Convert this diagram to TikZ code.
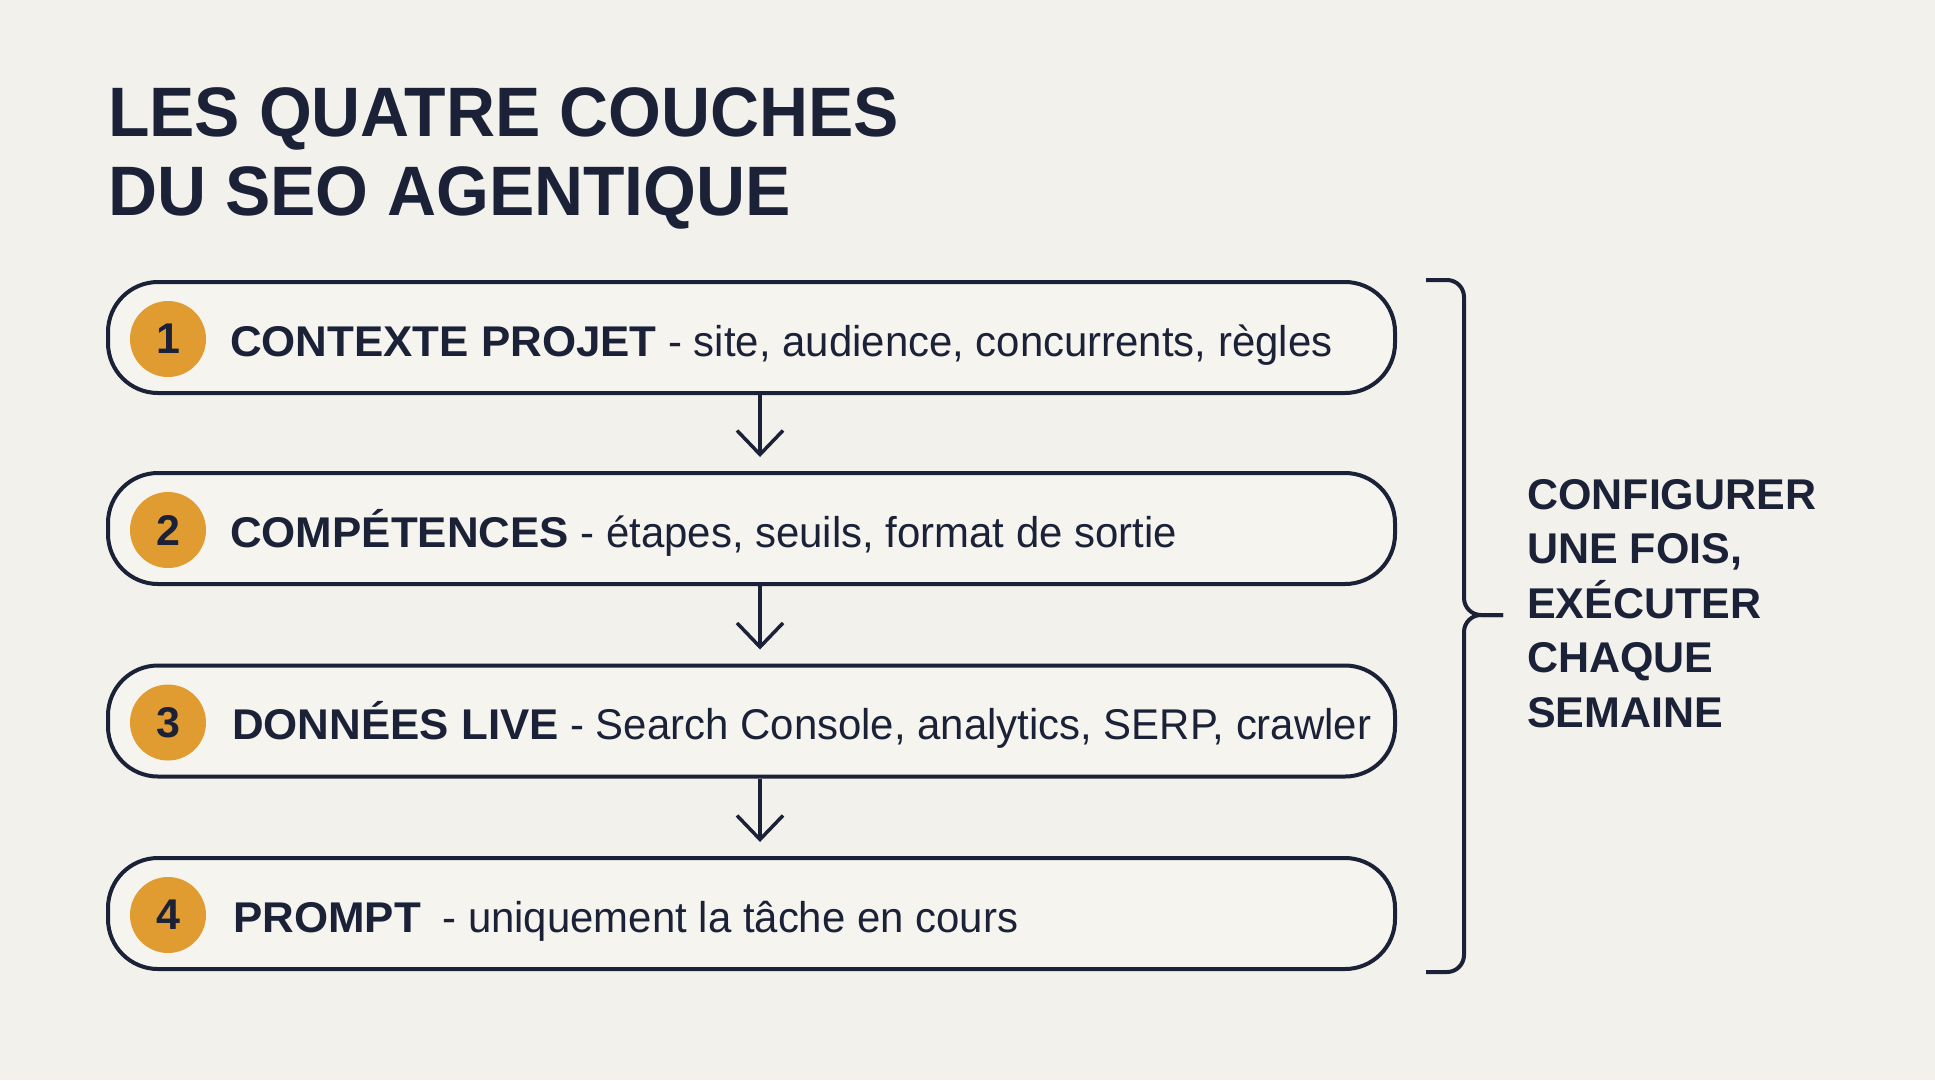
\documentclass[tikz,border=0pt]{standalone}
\usepackage{fontspec}
\setmainfont{Liberation Sans}
\newfontfamily\titlefont[FakeStretch=0.97]{Liberation Sans}
\newfontfamily\labreg[FakeStretch=0.975]{Liberation Sans}
\newfontfamily\labbold[FakeStretch=1.02]{Liberation Sans}
\usetikzlibrary{arrows.meta,calc}
\definecolor{bg}{HTML}{F3F1EC}
\definecolor{boxbg}{HTML}{F6F4EF}
\definecolor{navy}{HTML}{1B2238}
\definecolor{ora}{HTML}{E09C31}
\newcommand{\hd}[1]{{\labbold\bfseries #1}}
\tikzset{
  layer/.style={draw=navy, line width=4pt, fill=boxbg, rounded corners=50pt,
    minimum width=1287pt, minimum height=111pt, inner sep=0pt},
  num/.style={circle, fill=ora, minimum size=76pt, inner sep=0pt,
    font=\fontsize{43}{43}\selectfont\bfseries, text=navy},
  lab/.style={anchor=base west, inner sep=0pt, font=\labreg\fontsize{43}{50}\selectfont, text=navy},
  flow/.style={draw=navy, line width=3.5pt, -{Straight Barb[length=24pt,width=46pt]}},
  brace/.style={draw=navy, line width=4pt, rounded corners=17pt},
}
\begin{document}
\begin{tikzpicture}[x=1pt,y=-1pt]
\fill[bg] (0,0) rectangle (1935,1080);
\useasboundingbox (0,0) rectangle (1935,1080);

\node[anchor=north west, align=left, inner sep=0pt, text=navy,
  font=\titlefont\fontsize{70}{79}\selectfont\bfseries] (title) at (108,87)
  {LES QUATRE COUCHES\\DU SEO AGENTIQUE};

\node[layer] (b1) at (751.5,337.5) {};
\node[layer] (b2) at (751.5,528.5) {};
\node[layer] (b3) at (751.5,721) {};
\node[layer] (b4) at (751.5,913.5) {};

\node[num] (n1) at (168,339) {1};
\node[num] (n2) at (168,530) {2};
\node[num] (n3) at (168,722.5) {3};
\node[num] (n4) at (168,915) {4};

\node[lab] (t1) at (230,356) {\hd{CONTEXTE PROJET} - site, audience, concurrents, règles};
\node[lab] (t2) at (230,547) {\hd{COMPÉTENCES} - étapes, seuils, format de sortie};
\node[lab] (t3) at (232,739.5) {\hd{DONNÉES LIVE} - Search Console, analytics, SERP, crawler};
\node[lab] (t4) at (233,932) {\hd{PROMPT}\hspace{10pt} - uniquement la tâche en cours};

\coordinate (ax) at (760,0);
\draw[flow] (b1.south -| ax) -- ($(b2.north -| ax)+(0,-14)$);
\draw[flow] (b2.south -| ax) -- ($(b3.north -| ax)+(0,-14)$);
\draw[flow] (b3.south -| ax) -- ($(b4.north -| ax)+(0,-14)$);

\coordinate (bt) at (1426,280);
\coordinate (bb) at (1426,972);
\coordinate (bv) at (1464,615);
\coordinate (tip) at (1503,615);
\draw[brace] (bt) -- (bt -| bv) -- (bv) -- (tip);
\draw[brace] (bb) -- (bb -| bv) -- (bv) -- (tip);

\node[anchor=west, align=left, inner sep=0pt, text=navy,
  font=\fontsize{43}{54.5}\selectfont\bfseries] (side) at (1527,603.5)
  {CONFIGURER\\UNE FOIS,\\EXÉCUTER\\CHAQUE\\SEMAINE};
\end{tikzpicture}
\end{document}
